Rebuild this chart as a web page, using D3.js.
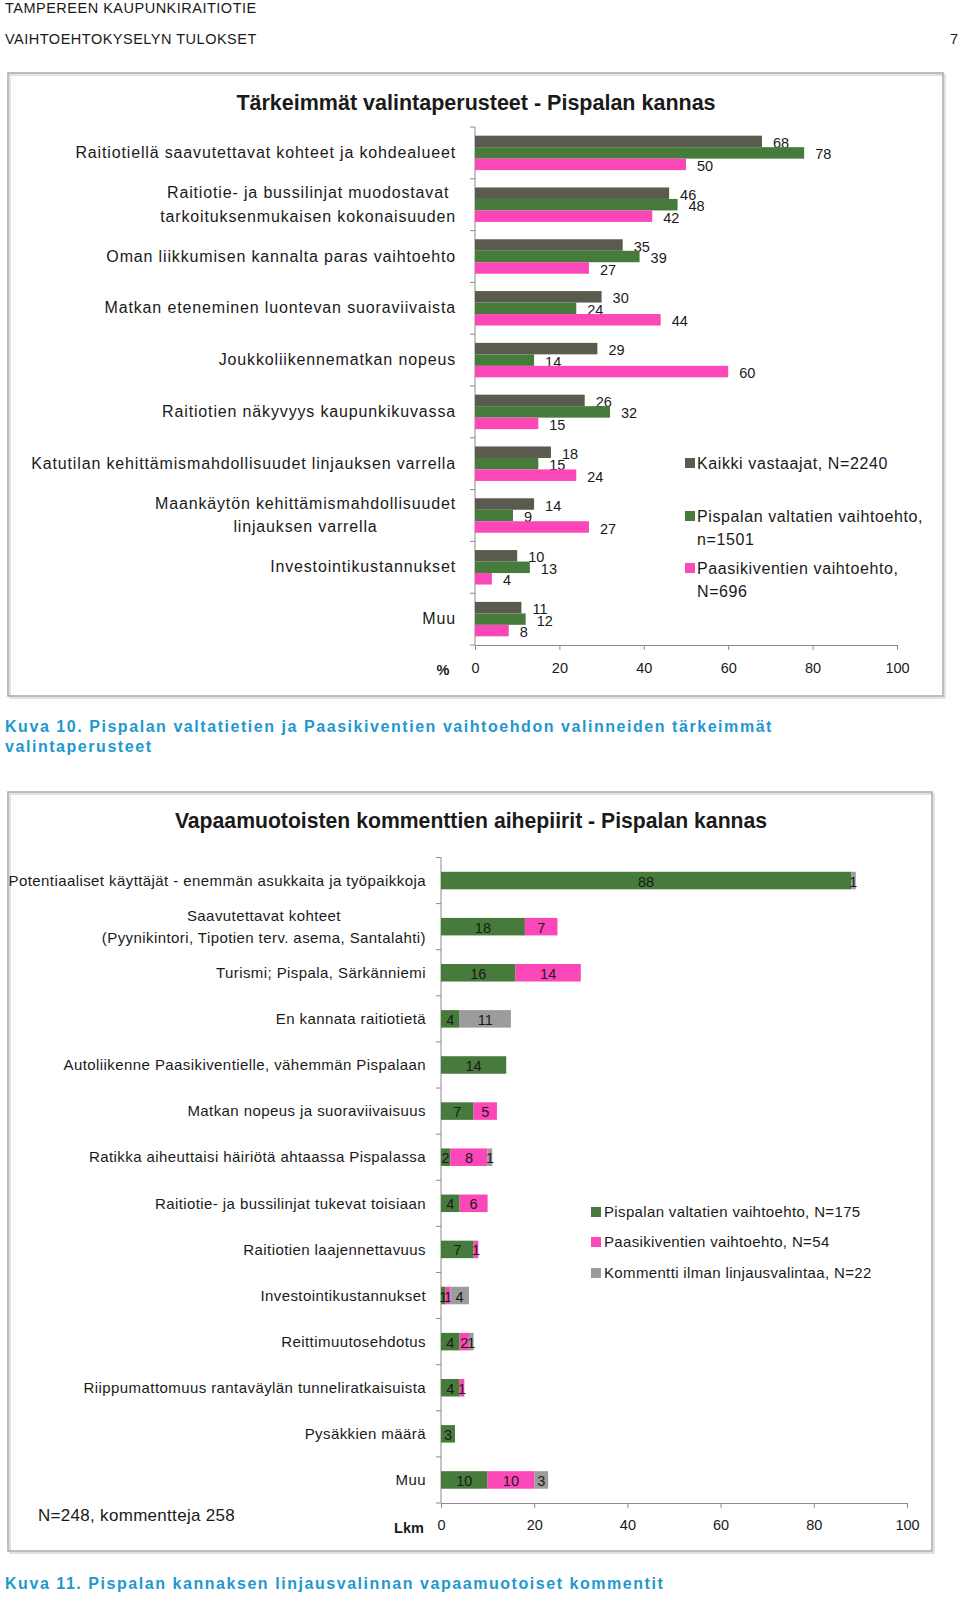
<!DOCTYPE html>
<html><head><meta charset="utf-8">
<script src="https://cdn.jsdelivr.net/npm/d3@7"></script>
<style>
body{margin:0;background:#fff;}
text{font-family:"Liberation Sans",Arial,sans-serif;}
</style></head>
<body><svg id="c" width="960" height="1598"></svg>
<script>
// ---------- Chart 1 data ----------
const cats1 = [
  "Raitiotiellä saavutettavat kohteet ja kohdealueet",
  "Raitiotie- ja bussilinjat muodostavat\ntarkoituksenmukaisen kokonaisuuden",
  "Oman liikkumisen kannalta paras vaihtoehto",
  "Matkan eteneminen luontevan suoraviivaista",
  "Joukkoliikennematkan nopeus",
  "Raitiotien näkyvyys kaupunkikuvassa",
  "Katutilan kehittämismahdollisuudet linjauksen varrella",
  "Maankäytön kehittämismahdollisuudet\nlinjauksen varrella",
  "Investointikustannukset",
  "Muu"
];
const kaikki = [68, 46, 35, 30, 29, 26, 18, 14, 10, 11];
const pispala1 = [78, 48, 39, 24, 14, 32, 15, 9, 13, 12];
const paasiki1 = [50, 42, 27, 44, 60, 15, 24, 27, 4, 8];
const series1Names = ["Kaikki vastaajat, N=2240", "Pispalan valtatien vaihtoehto,\nn=1501", "Paasikiventien vaihtoehto,\nN=696"];
const ticks1 = [0, 20, 40, 60, 80, 100];

// ---------- Chart 2 data ----------
const cats2 = [
  "Potentiaaliset käyttäjät - enemmän asukkaita ja työpaikkoja",
  "Saavutettavat kohteet\n(Pyynikintori, Tipotien terv. asema, Santalahti)",
  "Turismi; Pispala, Särkänniemi",
  "En kannata raitiotietä",
  "Autoliikenne Paasikiventielle, vähemmän Pispalaan",
  "Matkan nopeus ja suoraviivaisuus",
  "Ratikka aiheuttaisi häiriötä ahtaassa Pispalassa",
  "Raitiotie- ja bussilinjat tukevat toisiaan",
  "Raitiotien laajennettavuus",
  "Investointikustannukset",
  "Reittimuutosehdotus",
  "Riippumattomuus rantaväylän tunneliratkaisuista",
  "Pysäkkien määrä",
  "Muu"
];
const pispala2 = [88, 18, 16, 4, 14, 7, 2, 4, 7, 1, 4, 4, 3, 10];
const paasiki2 = [0, 7, 14, 0, 0, 5, 8, 6, 1, 1, 2, 1, 0, 10];
const ilman2 = [1, 0, 0, 11, 0, 0, 1, 0, 0, 4, 1, 0, 0, 3];
const series2Names = ["Pispalan valtatien vaihtoehto, N=175", "Paasikiventien vaihtoehto, N=54", "Kommentti ilman linjausvalintaa, N=22"];
const ticks2 = [0, 20, 40, 60, 80, 100];

const colGray = "#5b5a4e", colGreen = "#477b3c", colPink = "#fb47b7", colLight = "#9c9c9c";
const axisCol = "#8a8a8a";
const txt = "#1a1a1a";

const svg = d3.select("#c");
svg.append("rect").attr("width", 960).attr("height", 1598).attr("fill", "#fff");

// header
svg.append("text").attr("x", 5).attr("y", 12.5).attr("font-size", 14.5).attr("fill", txt).attr("letter-spacing", 0.5).text("TAMPEREEN KAUPUNKIRAITIOTIE");
svg.append("text").attr("x", 5).attr("y", 44).attr("font-size", 14.5).attr("fill", txt).attr("letter-spacing", 0.5).text("VAIHTOEHTOKYSELYN TULOKSET");
svg.append("text").attr("x", 958).attr("y", 44).attr("font-size", 14.5).attr("fill", txt).attr("text-anchor", "end").text("7");

function box(x0, y0, x1, y1) {
  svg.append("rect").attr("x", x0 + 2).attr("y", y0 + 2).attr("width", x1 - x0).attr("height", y1 - y0).attr("fill", "none").attr("stroke", "#e2e2e2").attr("stroke-width", 2);
  svg.append("rect").attr("x", x0).attr("y", y0).attr("width", x1 - x0).attr("height", y1 - y0).attr("fill", "none").attr("stroke", "#a8a8a8").attr("stroke-width", 1.5);
}

// multi-line label, centered lines, right edge at xr
function catLabel(g, label, xr, yc, fs, ls, lh) {
  const lines = label.split("\n");
  const t = g.append("text").attr("font-size", fs).attr("letter-spacing", ls).attr("fill", txt);
  const spans = lines.map((l) => t.append("tspan").text(l));
  const widths = spans.map(s => s.node().getComputedTextLength());
  const maxW = d3.max(widths);
  const cx = xr - maxW / 2;
  const y0 = yc - (lines.length - 1) * lh / 2;
  spans.forEach((s, i) => s.attr("x", lines.length > 1 ? cx : xr).attr("y", y0 + i * lh).attr("dy", "0.35em").attr("text-anchor", lines.length > 1 ? "middle" : "end"));
}

// ================= Chart 1 =================
box(8, 73, 943, 696);
svg.append("text").attr("x", 476).attr("y", 110).attr("text-anchor", "middle").attr("font-size", 21.5).attr("font-weight", "bold").attr("fill", txt).text("Tärkeimmät valintaperusteet - Pispalan kannas");

const x1 = d3.scaleLinear().domain([0, 100]).range([475, 897]);
const y1 = d3.scaleBand().domain(d3.range(cats1.length)).range([127, 645]).paddingInner(0.335).paddingOuter(0.1675);
const sub1 = d3.scaleBand().domain([0, 1, 2]).range([0, y1.bandwidth()]);
const data1 = [kaikki, pispala1, paasiki1];
const cols1 = [colGray, colGreen, colPink];

const g1 = svg.append("g");
// axes
g1.append("g").attr("transform", "translate(0,645)")
  .call(d3.axisBottom(x1).tickValues(ticks1).tickSize(5).tickPadding(13))
  .call(a => { a.select(".domain").attr("stroke", axisCol); a.selectAll("line").attr("stroke", axisCol); a.selectAll("text").attr("font-size", 14.5).attr("fill", txt).attr("font-family", "Liberation Sans, Arial"); });
const yb1 = d3.range(cats1.length + 1).map(i => 127 + i * (645 - 127) / cats1.length);
g1.append("line").attr("x1", 475).attr("x2", 475).attr("y1", 127).attr("y2", 645).attr("stroke", axisCol);
g1.selectAll(".yt").data(yb1).join("line").attr("x1", 470).attr("x2", 475).attr("y1", d => d).attr("y2", d => d).attr("stroke", axisCol);
g1.append("text").attr("x", 443).attr("y", 670).attr("dy", "0.35em").attr("text-anchor", "middle").attr("font-size", 14.5).attr("font-weight", "bold").attr("fill", txt).text("%");

data1.forEach((vals, s) => {
  const gs = g1.append("g");
  gs.selectAll("rect").data(vals).join("rect")
    .attr("x", x1(0)).attr("y", (d, i) => y1(i) + sub1(s))
    .attr("width", d => x1(d) - x1(0)).attr("height", sub1.bandwidth()).attr("fill", cols1[s]);
  gs.selectAll("text").data(vals).join("text")
    .attr("x", d => x1(d) + 11).attr("y", (d, i) => y1(i) + sub1(s) + sub1.bandwidth() / 2 + 1.5)
    .attr("dy", "0.35em").attr("font-size", 14.5).attr("fill", txt).text(d => d);
});
cats1.forEach((c, i) => catLabel(g1, c, 456, y1(i) + y1.bandwidth() / 2 - 0.5, 16, 0.85, 23.5));

// legend 1
const leg1Y = [463, 516, 568];
series1Names.forEach((n, i) => {
  svg.append("rect").attr("x", 685).attr("y", leg1Y[i] - 5).attr("width", 10).attr("height", 10).attr("fill", cols1[i]);
  const lines = n.split("\n");
  lines.forEach((l, j) => svg.append("text").attr("x", 697).attr("y", leg1Y[i] + j * 23.5).attr("dy", "0.35em").attr("font-size", 16).attr("letter-spacing", 0.6).attr("fill", txt).text(l));
});

// caption 1
const capCol = "#1f97cf";
svg.append("text").attr("x", 5).attr("y", 732).attr("font-size", 16).attr("font-weight", "bold").attr("letter-spacing", 1.55).attr("fill", capCol).text("Kuva 10. Pispalan valtatietien ja Paasikiventien vaihtoehdon valinneiden tärkeimmät");
svg.append("text").attr("x", 5).attr("y", 752).attr("font-size", 16).attr("font-weight", "bold").attr("letter-spacing", 1.55).attr("fill", capCol).text("valintaperusteet");

// ================= Chart 2 =================
box(8, 792, 932, 1551);
svg.append("text").attr("x", 471).attr("y", 828).attr("text-anchor", "middle").attr("font-size", 21.2).attr("font-weight", "bold").attr("fill", txt).text("Vapaamuotoisten kommenttien aihepiirit - Pispalan kannas");

const x2 = d3.scaleLinear().domain([0, 100]).range([441, 907]);
const y2 = d3.scaleBand().domain(d3.range(cats2.length)).range([857.5, 1503]).paddingInner(0.62).paddingOuter(0.31);
const g2 = svg.append("g");
g2.append("g").attr("transform", "translate(0,1503)")
  .call(d3.axisBottom(x2).tickValues(ticks2).tickSize(5).tickPadding(12))
  .call(a => { a.select(".domain").attr("stroke", axisCol); a.selectAll("line").attr("stroke", axisCol); a.selectAll("text").attr("font-size", 14.5).attr("fill", txt).attr("font-family", "Liberation Sans, Arial"); });
const yb2 = d3.range(cats2.length + 1).map(i => 857.5 + i * (1503 - 857.5) / cats2.length);
g2.append("line").attr("x1", 441).attr("x2", 441).attr("y1", 857.5).attr("y2", 1503).attr("stroke", axisCol);
g2.selectAll(".yt").data(yb2).join("line").attr("x1", 436).attr("x2", 441).attr("y1", d => d).attr("y2", d => d).attr("stroke", axisCol);
g2.append("text").attr("x", 409).attr("y", 1528).attr("dy", "0.35em").attr("text-anchor", "middle").attr("font-size", 14.5).attr("font-weight", "bold").attr("fill", txt).text("Lkm");

const stackData = cats2.map((c, i) => ({ i, a: pispala2[i], b: paasiki2[i], c: ilman2[i] }));
const stack = d3.stack().keys(["a", "b", "c"])(stackData);
const cols2 = [colGreen, colPink, colLight];
stack.forEach((layer, s) => {
  const gs = g2.append("g");
  const segs = layer.filter(d => d[1] - d[0] > 0);
  gs.selectAll("rect").data(segs).join("rect")
    .attr("x", d => x2(d[0])).attr("y", d => y2(d.data.i))
    .attr("width", d => x2(d[1]) - x2(d[0])).attr("height", y2.bandwidth()).attr("fill", cols2[s]);
  gs.selectAll("text").data(segs).join("text")
    .attr("x", d => (x2(d[0]) + x2(d[1])) / 2).attr("y", d => y2(d.data.i) + y2.bandwidth() / 2 + 1)
    .attr("dy", "0.35em").attr("text-anchor", "middle").attr("font-size", 14.5).attr("fill", txt).text(d => d[1] - d[0]);
});
cats2.forEach((c, i) => catLabel(g2, c, 426, y2(i) + y2.bandwidth() / 2, 15, 0.42, 21.5));

const leg2Y = [1212, 1242, 1273];
series2Names.forEach((n, i) => {
  svg.append("rect").attr("x", 591).attr("y", leg2Y[i] - 5).attr("width", 10).attr("height", 10).attr("fill", cols2[i]);
  svg.append("text").attr("x", 604).attr("y", leg2Y[i]).attr("dy", "0.35em").attr("font-size", 15).attr("letter-spacing", 0.35).attr("fill", txt).text(n);
});
svg.append("text").attr("x", 38).attr("y", 1515).attr("dy", "0.35em").attr("font-size", 17).attr("letter-spacing", 0.3).attr("fill", txt).text("N=248, kommentteja 258");

svg.append("text").attr("x", 5).attr("y", 1589).attr("font-size", 16).attr("font-weight", "bold").attr("letter-spacing", 1.55).attr("fill", capCol).text("Kuva 11. Pispalan kannaksen linjausvalinnan vapaamuotoiset kommentit");
</script></body></html>
